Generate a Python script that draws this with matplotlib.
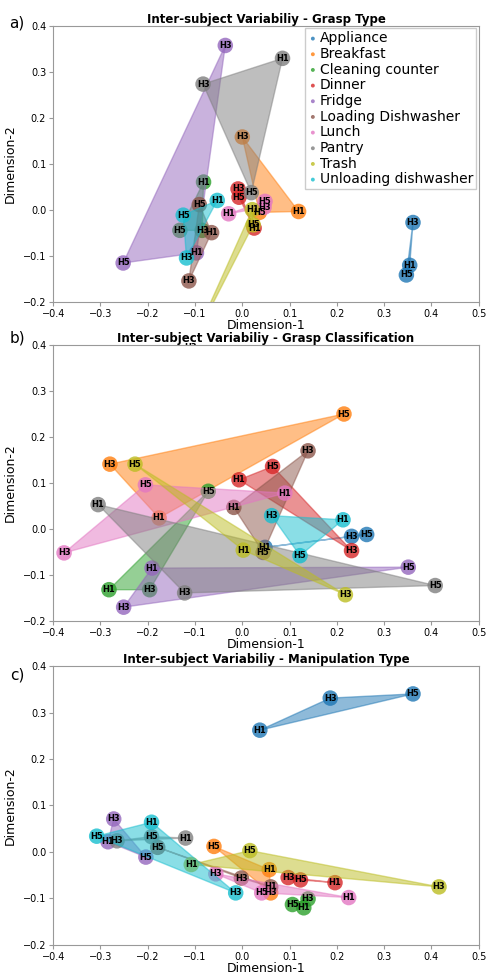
import matplotlib
matplotlib.use("Agg")
import matplotlib.pyplot as plt

categories = ["Appliance", "Breakfast", "Cleaning counter", "Dinner", "Fridge",
              "Loading Dishwasher", "Lunch", "Pantry", "Trash", "Unloading dishwasher"]
subjects = ["H1", "H3", "H5"]
colors = ["tab:blue", "tab:orange", "tab:green", "tab:red", "tab:purple",
          "tab:brown", "tab:pink", "tab:gray", "tab:olive", "tab:cyan"]

# points per category, order H1, H3, H5
grasp_type_x = [[0.354, 0.361, 0.347], [0.119, 0.000, 0.036], [-0.082, -0.085, -0.132],
                [0.025, -0.009, -0.007], [-0.097, -0.036, -0.252], [-0.065, -0.113, -0.091],
                [-0.029, 0.046, 0.048], [0.085, -0.083, 0.019], [0.021, -0.110, 0.023],
                [-0.053, -0.118, -0.125]]
grasp_type_y = [[-0.121, -0.028, -0.142], [-0.004, 0.158, -0.006], [0.060, -0.045, -0.045],
                [-0.040, 0.045, 0.027], [-0.094, 0.357, -0.116], [-0.050, -0.155, 0.011],
                [-0.009, 0.005, 0.018], [0.329, 0.273, 0.037], [0.000, -0.300, -0.033],
                [0.020, -0.105, -0.012]]

grasp_class_x = [[0.048, 0.231, 0.263], [-0.176, -0.280, 0.215], [-0.282, -0.196, -0.072],
                 [-0.007, 0.231, 0.064], [-0.191, -0.251, 0.351], [-0.018, 0.139, 0.044],
                 [0.090, -0.377, -0.205], [-0.305, -0.122, 0.408], [0.002, 0.218, -0.227],
                 [0.213, 0.062, 0.122]]
grasp_class_y = [[-0.040, -0.016, -0.012], [0.024, 0.141, 0.250], [-0.132, -0.132, 0.082],
                 [0.107, -0.047, 0.136], [-0.085, -0.170, -0.083], [0.047, 0.170, -0.051],
                 [0.078, -0.052, 0.096], [0.053, -0.139, -0.123], [-0.046, -0.143, 0.141],
                 [0.020, 0.029, -0.058]]

manip_x = [[0.037, 0.186, 0.361], [0.057, 0.060, -0.060], [0.130, 0.139, 0.106],
           [0.196, 0.097, 0.123], [-0.284, -0.272, -0.204], [0.060, -0.002, -0.179],
           [0.225, -0.056, 0.041], [-0.120, -0.265, -0.192], [-0.108, 0.416, 0.016],
           [-0.192, -0.014, -0.308]]
manip_y = [[0.262, 0.331, 0.340], [-0.038, -0.088, 0.012], [-0.120, -0.101, -0.113],
           [-0.066, -0.055, -0.060], [0.022, 0.071, -0.011], [-0.075, -0.056, 0.010],
           [-0.098, -0.047, -0.088], [0.030, 0.024, 0.033], [-0.027, -0.075, 0.003],
           [0.064, -0.088, 0.034]]

panels = [("a)", "Inter-subject Variabiliy - Grasp Type", grasp_type_x, grasp_type_y),
          ("b)", "Inter-subject Variabiliy - Grasp Classification", grasp_class_x, grasp_class_y),
          ("c)", "Inter-subject Variabiliy - Manipulation Type", manip_x, manip_y)]

fig = plt.figure(figsize=(4.88, 9.73), dpi=100)
boxes = [[0.109, 0.690, 0.872, 0.2836], [0.109, 0.3618, 0.872, 0.2836], [0.109, 0.0288, 0.872, 0.2867]]
letter_y = [0.976, 0.653, 0.306]

for (letter, title, xs, ys), box, ly in zip(panels, boxes, letter_y):
    ax = fig.add_axes(box)
    for cat, col, px, py in zip(categories, colors, xs, ys):
        ax.fill(px, py, color=col, alpha=0.5, lw=1)
        ax.scatter(px, py, s=125, color=col, alpha=0.8, label=cat, edgecolors="none")
        for sub, x, y in zip(subjects, px, py):
            ax.text(x, y, sub, fontsize=6, fontweight="bold", ha="center", va="center")
    ax.set_xlim(-0.4, 0.5)
    ax.set_ylim(-0.2, 0.4)
    ax.set_title(title, fontsize=8.5, fontweight="bold", pad=2)
    ax.set_xlabel("Dimension-1", fontsize=9, labelpad=0)
    ax.set_ylabel("Dimension-2", fontsize=9)
    ax.tick_params(labelsize=7, length=3, color="0.6", pad=2)
    for sp in ax.spines.values():
        sp.set_color("0.6")
    fig.text(0.035, ly, letter, fontsize=11, ha="center", va="center")
    if letter == "a)":
        ax.legend(loc="upper right", fontsize=10, markerscale=0.25, handletextpad=0.1,
                  labelspacing=0.12, borderpad=0.2, handlelength=0.8, borderaxespad=0.2,
                  framealpha=1, fancybox=False, edgecolor="0.8")

fig.savefig("out.png", dpi=100)
